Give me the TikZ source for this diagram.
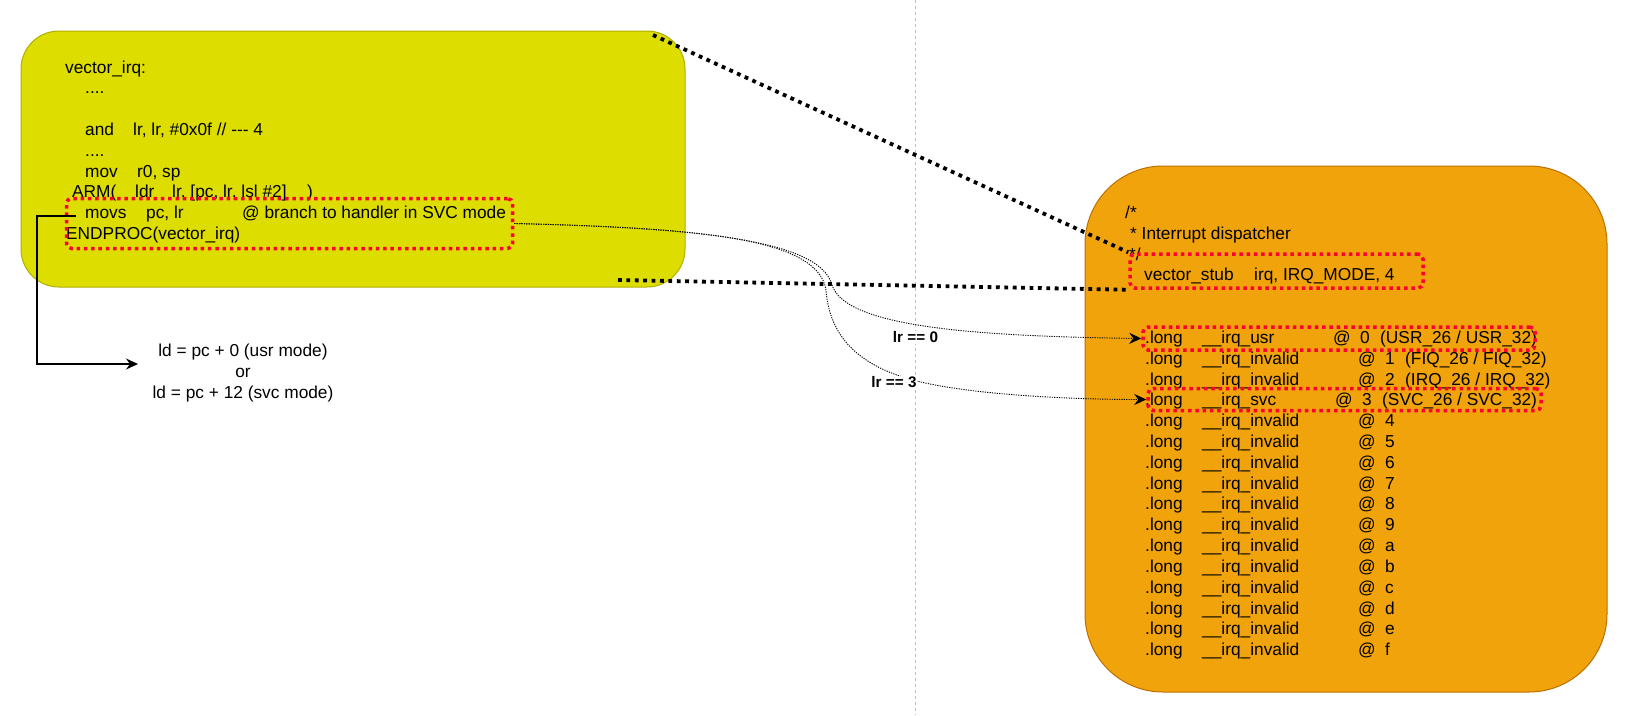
\documentclass[tikz,border=0pt]{standalone}
\usepackage{fontspec}
\setmainfont{Liberation Sans}
\usetikzlibrary{arrows.meta}
\definecolor{limefill}{HTML}{DDDD00}
\definecolor{limedraw}{HTML}{B0B000}
\definecolor{amberfill}{HTML}{F0A30A}
\definecolor{amberdraw}{HTML}{BD7000}
\definecolor{hired}{HTML}{FF0033}
\definecolor{guide}{HTML}{BBBBBB}
\begin{document}
\begin{tikzpicture}[x=1pt,y=-1pt,
  code/.style={anchor=base west, inner sep=0pt, font=\fontsize{17.3}{20.8}\selectfont},
  lbl/.style={font=\fontsize{15.3}{18}\selectfont\bfseries, fill=white, inner sep=0.5pt},
  hlbox/.style={draw=hired, line width=3.5pt, dash pattern=on 3.5pt off 3.8pt, rounded corners=5pt, inner sep=0pt},
  thickdot/.style={line width=3.8pt, dash pattern=on 3.8pt off 4.6pt},
  thindot/.style={line width=0.9pt, dash pattern=on 1.2pt off 1.2pt, -{Stealth[length=12pt,width=11pt,inset=4pt]}},
  bigbox/.style={draw, line width=1pt, inner sep=0pt},
]
\useasboundingbox (0,0) rectangle (1629,715);
\fill[white] (0,0) rectangle (1629,715);

% guide line
\coordinate (gtop) at (915.5,0);
\coordinate (gbot) at (915.5,715);
\draw[guide, line width=1pt, dash pattern=on 3pt off 3pt] (gtop) -- (gbot);

% main boxes
\node[bigbox, draw=limedraw, fill=limefill, rounded corners=38pt, minimum width=664pt, minimum height=256pt] (leftbox) at (353,159) {};
\node[bigbox, draw=amberdraw, fill=amberfill, rounded corners=78pt, minimum width=522pt, minimum height=526pt] (rightbox) at (1346,429) {};

% left code
\node[code] (l0) at (65,73) {vector\_irq:};
\node[code] (l1) at (85,93.8) {....};
\node[code] (l3a) at (85,135.4) {and};
\node[code] (l3b) at (133,135.4) {lr, lr, \#0x0f // -\kern0pt-\kern0pt- 4};
\node[code] (l4) at (85,156.2) {....};
\node[code] (l5a) at (85,177) {mov};
\node[code] (l5b) at (137,177) {r0, sp};
\node[code] (l6a) at (72,197.8) {ARM(};
\node[code] (l6b) at (135,197.8) {ldr};
\node[code] (l6c) at (172,197.8) {lr, [pc, lr, lsl \#2]};
\node[code] (l6d) at (307,197.8) {)};
\node[code] (l7a) at (85,218.6) {movs};
\node[code] (l7b) at (146,218.6) {pc, lr};
\node[code] (l7c) at (242,218.6) {@ branch to handler in SVC mode};
\node[code] (l8) at (66,239.4) {ENDPROC(vector\_irq)};

% note under left box
\node[code, anchor=base] (n1) at (243,356.7) {ld = pc + 0 (usr mode)};
\node[code, anchor=base] (n2) at (243,377.3) {or};
\node[code, anchor=base] (n3) at (243,398) {ld = pc + 12 (svc mode)};

% right code
\node[code] (r0) at (1125,218.3) {/*};
\node[code] (r1) at (1130,239.1) {* Interrupt dispatcher};
\node[code] (r2) at (1129,260) {*/};
\node[code] (r3a) at (1144,280.8) {vector\_stub};
\node[code] (r3b) at (1254,280.8) {irq, IRQ\_MODE, 4};

\node[code] (u0a) at (1145,343.3) {.long};
\node[code] (u0b) at (1202,343.3) {\_\_irq\_usr};
\node[code] (u0c) at (1333,343.3) {@};
\node[code] (u0d) at (1360,343.3) {0};
\node[code] (u0e) at (1380,343.3) {(USR\_26 / USR\_32)};

\node[code] (u1a) at (1145,364.1) {.long};
\node[code] (u1b) at (1202,364.1) {\_\_irq\_invalid};
\node[code] (u1c) at (1358,364.1) {@};
\node[code] (u1d) at (1385,364.1) {1};
\node[code] (u1e) at (1405,364.1) {(FIQ\_26 / FIQ\_32)};

\node[code] (u2a) at (1145,385) {.long};
\node[code] (u2b) at (1202,385) {\_\_irq\_invalid};
\node[code] (u2c) at (1358,385) {@};
\node[code] (u2d) at (1385,385) {2};
\node[code] (u2e) at (1405,385) {(IRQ\_26 / IRQ\_32)};

\node[code] (u3a) at (1145,405.8) {.long};
\node[code] (u3b) at (1202,405.8) {\_\_irq\_svc};
\node[code] (u3c) at (1335,405.8) {@};
\node[code] (u3d) at (1362,405.8) {3};
\node[code] (u3e) at (1382,405.8) {(SVC\_26 / SVC\_32)};

\foreach \k/\d in {4/4,5/5,6/6,7/7,8/8,9/9,10/a,11/b,12/c,13/d,14/e,15/f}{
  \pgfmathsetmacro{\yy}{343.3+20.83*\k}
  \node[code] (v\k a) at (1145,\yy) {.long};
  \node[code] (v\k b) at (1202,\yy) {\_\_irq\_invalid};
  \node[code] (v\k c) at (1358,\yy) {@};
  \node[code] (v\k d) at (1385,\yy) {\d};
}

% highlight boxes
\node[hlbox, minimum width=446pt, minimum height=50pt] (leftred) at (289.5,223.5) {};
\node[hlbox, minimum width=293pt, minimum height=34pt] (stubbox) at (1276.5,271) {};
\node[hlbox, minimum width=392pt, minimum height=23pt] (usrbox) at (1339,338.5) {};
\node[hlbox, minimum width=393pt, minimum height=22pt] (svcbox) at (1344.5,399.5) {};

% thick dotted links
\coordinate (t1) at (653,35);
\coordinate (t2) at (618,280);
\draw[thickdot] (t1) -- (stubbox.north west);
\draw[thickdot] (t2) -- (stubbox.south west);

% branch curves
\draw[thindot] (leftred.east) .. controls (700,228) and (820,240) .. (832,285)
  .. controls (845,325) and (960,336) .. (usrbox.west);
\draw[thindot] (leftred.east) .. controls (700,228) and (818,238) .. (826,290)
  .. controls (830,345) and (870,372) .. (930,384)
  .. controls (990,396) and (1080,399.5) .. (svcbox.west);

\node[lbl] (lab0) at (915.5,337.5) {lr == 0};
\node[lbl] (lab3) at (894,382.5) {lr == 3};

% arrow from movs
\coordinate (movsL) at (76,216);
\coordinate (ldA) at (138,364);
\draw[line width=1.2pt, -{Stealth[length=12pt,width=11pt,inset=4pt]}] (movsL) -- (37,216) |- (ldA);
\end{tikzpicture}
\end{document}
